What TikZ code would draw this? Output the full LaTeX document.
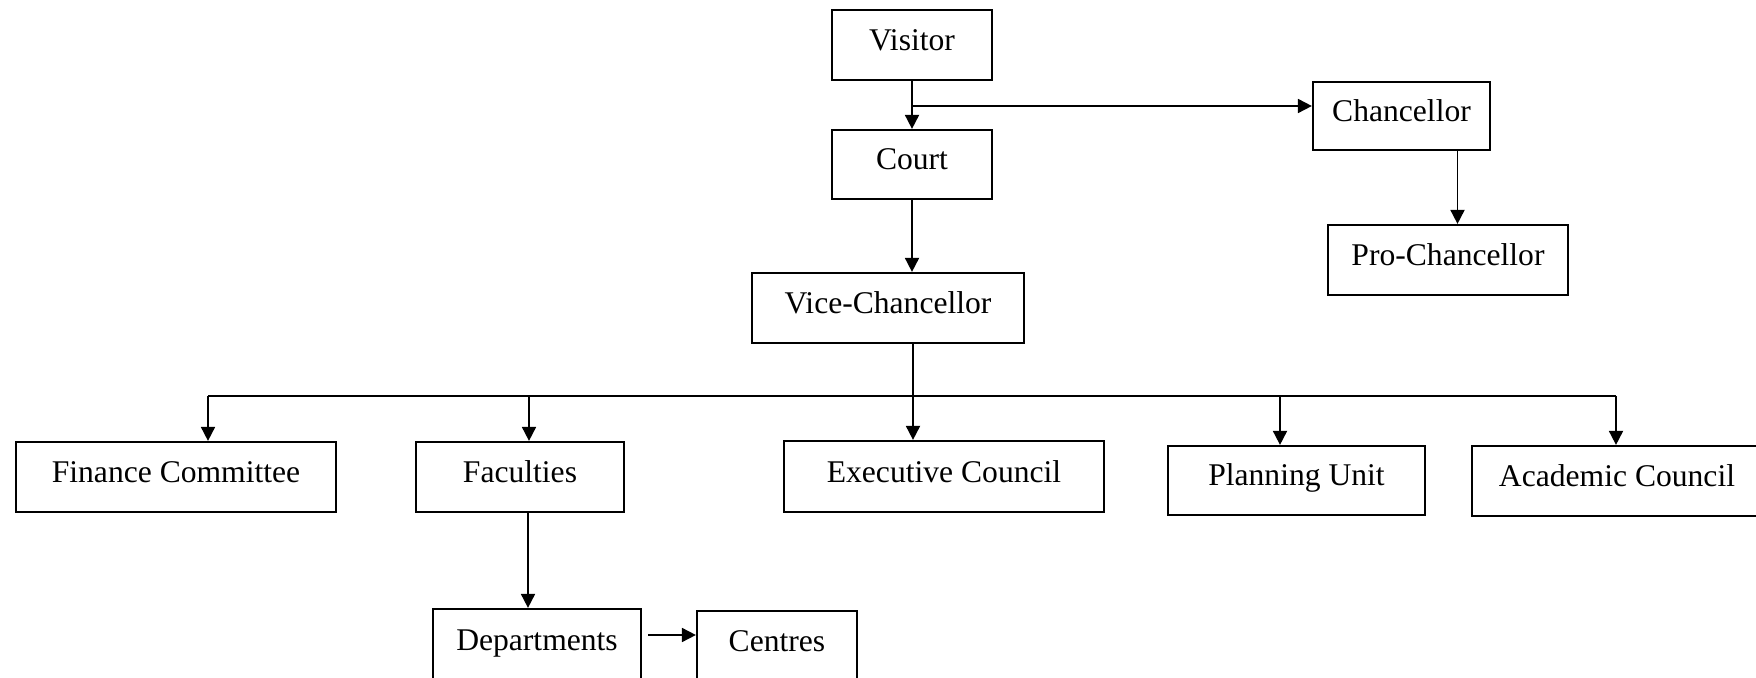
\documentclass[tikz,border=0pt]{standalone}
\usepackage{fontspec}
\setmainfont{Liberation Serif}
\usetikzlibrary{arrows.meta,positioning}

\begin{document}
\begin{tikzpicture}[x=0.5pt,y=-0.5pt,>={Triangle[length=7pt,width=7pt]},
    box/.style={draw,line width=1.1pt,inner sep=0pt,text height=9pt,text depth=3.5pt,
      font=\fontsize{15.8}{19}\selectfont},
    link/.style={->,line width=0.9pt}]
    \useasboundingbox (0,0) rectangle (1756,678);
    \clip (0,0) rectangle (1756,678);
    \node[box,minimum width=80pt,minimum height=35pt] (visitor) at (912,45) {Visitor};
    \node[box,minimum width=80pt,minimum height=34.5pt] (court) at (912,164.5) {Court};
    \node[box,minimum width=88.5pt,minimum height=34pt] (chancellor) at (1401.5,116) {Chancellor};
    \node[box,minimum width=120pt,minimum height=35pt] (pro) at (1448,260) {Pro-Chancellor};
    \node[box,minimum width=136pt,minimum height=35pt] (vc) at (888,308) {Vice-Chancellor};
    \node[box,minimum width=160pt,minimum height=35pt] (finance) at (176,477) {Finance Committee};
    \node[box,minimum width=104pt,minimum height=35pt] (faculties) at (520,477) {Faculties};
    \node[box,minimum width=160pt,minimum height=35.5pt] (executive) at (944,476.5) {Executive Council};
    \node[box,minimum width=128.5pt,minimum height=34.5pt] (planning) at (1296.5,480.5) {Planning Unit};
    \node[box,minimum width=145pt,minimum height=35pt] (academic) at (1617,481) {Academic Council};
    \node[box,minimum width=104pt,minimum height=36pt] (departments) at (537,645) {Departments};
    \node[box,minimum width=80pt,minimum height=35pt] (centres) at (777,646) {Centres};
    \coordinate (split) at (912,106);
    \draw[link] (visitor) -- (court);
    \draw[link] (split) -- (split -| chancellor.west);
    \draw[link] (court.south) -- (court.south |- vc.north);
    \draw[link] ([xshift=28pt]chancellor.south) -- ([xshift=28pt]chancellor.south |- pro.north);
    \draw[link] ([xshift=12.5pt]vc.south) -- ([xshift=12.5pt]vc.south |- executive.north);
    \coordinate (busL) at (208,396);
    \coordinate (busR) at (1616,396);
    \draw[line width=0.9pt] (busL) -- (busR);
    \foreach \x/\n in {208/finance,529/faculties,1280/planning,1616/academic}{
      \coordinate (drop) at (\x,396);
      \draw[link] (drop) -- (drop |- \n.north);
    }
    \draw[link] ([xshift=4pt]faculties.south) -- ([xshift=4pt]faculties.south |- departments.north);
    \draw[link] ([shift={(3pt,5pt)}]departments.east) -- ([yshift=5pt]departments.east -| centres.west);
  \end{tikzpicture}
\end{document}
